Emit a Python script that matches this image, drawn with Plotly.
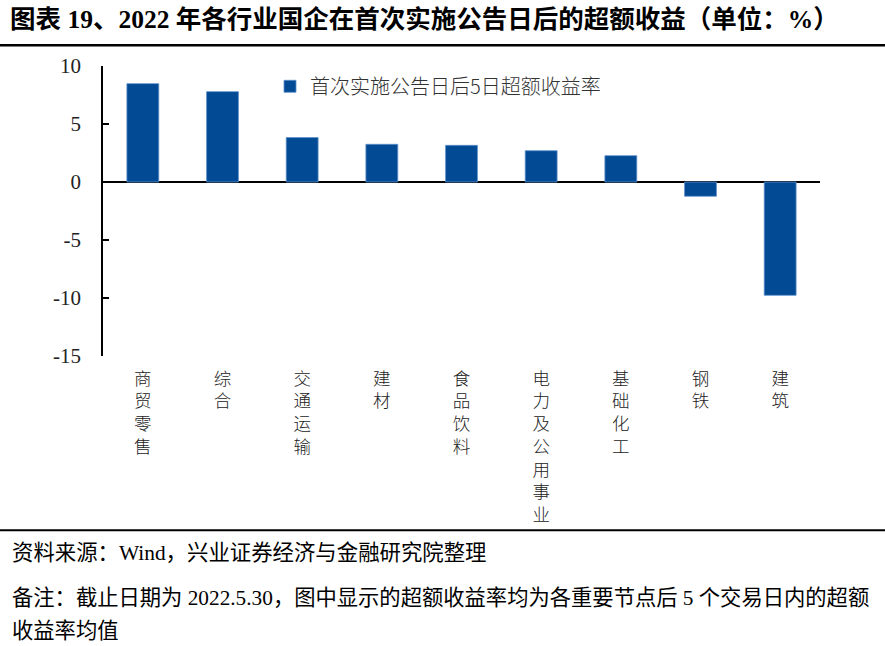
import plotly.graph_objects as go

categories = ["商贸零售", "综合", "交通运输", "建材", "食品饮料", "电力及公用事业", "基础化工", "钢铁", "建筑"]
values = [8.48, 7.79, 3.83, 3.25, 3.16, 2.7, 2.27, -1.23, -9.77]
series_name = "首次实施公告日后5日超额收益率"
y_ticks = [10, 5, 0, -5, -10, -15]

title_text = "图表 19、2022 年各行业国企在首次实施公告日后的超额收益（单位：%）"
source_text = "资料来源：Wind，兴业证券经济与金融研究院整理"
note_line1 = "备注：截止日期为 2022.5.30，图中显示的超额收益率均为各重要节点后 5 个交易日内的超额"
note_line2 = "收益率均值"

W, H = 885, 646
L, T = 103, 65.7
pw, ph = 717, 290
R = W - L - pw
B = H - T - ph

def px(x):
    return (x - L) / pw

def py(y):
    return (T + ph - y) / ph

cjk = "Noto Sans CJK SC"
serif = "Liberation Serif, Noto Sans CJK SC"

fig = go.Figure()
fig.add_trace(go.Bar(
    x=["<br>".join(c) for c in categories],
    y=values,
    name=series_name,
    width=0.4,
    marker=dict(color="#024B94", line=dict(color="#5E8FCB", width=0.8)),
))

fig.update_layout(
    width=W, height=H,
    margin=dict(l=L, r=R, t=T, b=B),
    paper_bgcolor="white", plot_bgcolor="white",
    showlegend=True,
    legend=dict(x=px(270), y=py(86), xanchor="left", yanchor="middle",
                font=dict(family=cjk, size=20, color="#333333", weight=300),
                bgcolor="rgba(0,0,0,0)", itemwidth=30),
    xaxis=dict(showline=False, ticks="", showgrid=False,
               tickfont=dict(family=cjk, size=17.5, color="#222222", weight=300),
               tickangle=0, ticklabelstandoff=10),
    yaxis=dict(range=[-15, 10], tickvals=y_ticks, ticktext=[str(v) for v in y_ticks],
               showgrid=False,
               showline=True, linecolor="black", linewidth=1.5,
               ticks="inside", ticklen=6, tickcolor="black", tickwidth=1.5,
               ticklabelstandoff=16,
               zeroline=True, zerolinecolor="black", zerolinewidth=1.5,
               tickfont=dict(family=serif, size=21, color="#222222")),
    shapes=[
        dict(type="line", xref="paper", yref="paper", x0=px(0), x1=px(W), y0=py(45), y1=py(45),
             line=dict(color="black", width=2.5)),
        dict(type="line", xref="paper", yref="paper", x0=px(0), x1=px(W), y0=py(530), y1=py(530),
             line=dict(color="black", width=2)),
    ],
    annotations=[
        dict(text="<b>" + title_text + "</b>", xref="paper", yref="paper", x=px(8), y=py(19),
             xanchor="left", yanchor="middle", showarrow=False,
             font=dict(family=serif, size=25.5, color="black")),
        dict(text=source_text, xref="paper", yref="paper", x=px(10), y=py(553),
             xanchor="left", yanchor="middle", showarrow=False,
             font=dict(family=serif, size=21.4, color="black")),
        dict(text=note_line1, xref="paper", yref="paper", x=px(10), y=py(598),
             xanchor="left", yanchor="middle", showarrow=False,
             font=dict(family=serif, size=21.3, color="black")),
        dict(text=note_line2, xref="paper", yref="paper", x=px(10), y=py(631),
             xanchor="left", yanchor="middle", showarrow=False,
             font=dict(family=serif, size=21.3, color="black")),
    ],
)

fig.write_html("out.html", config={"displayModeBar": False},
               post_script="document.body.style.margin='0';")
